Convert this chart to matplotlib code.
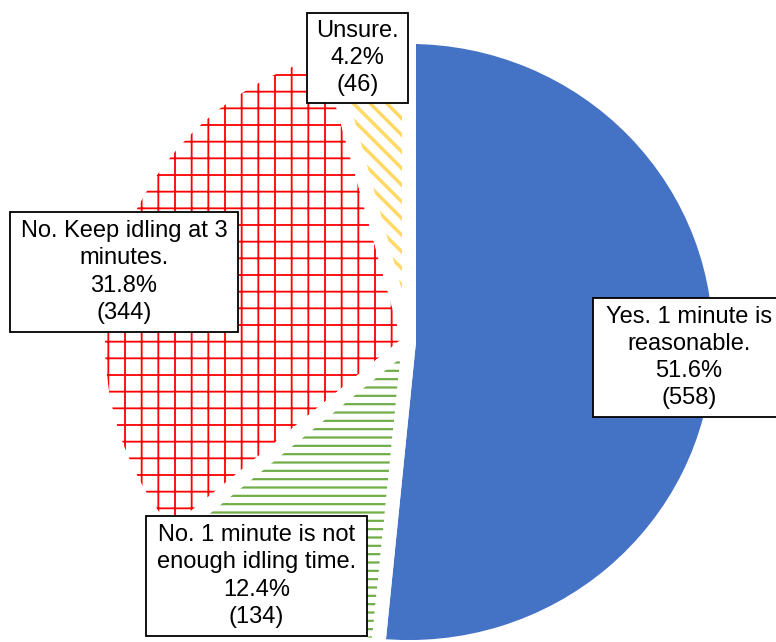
import matplotlib
matplotlib.use('Agg')
import matplotlib.pyplot as plt
from matplotlib.patches import Rectangle

plt.rcParams['font.family'] = ['Liberation Sans', 'DejaVu Sans']

# data, clockwise from 12 o'clock
labels = ['Yes. 1 minute is\nreasonable.',
          'No. 1 minute is not\nenough idling time.',
          'No. Keep idling at 3\nminutes.',
          'Unsure.']
counts = [558, 134, 344, 46]
percents = [51.6, 12.4, 31.8, 4.2]
colors = ['#4472C4', '#70AD47', '#FF0000', '#FFD966']
hatches = [None, '--', '+', '\\\\']
hatch_lw = [0, 1.6, 1.3, 2.5]

W, H = 776, 642
# pie centre and radii in pixels (slightly wider than tall)
cx, cy, rx, ry = 409, 342, 311, 305

fig = plt.figure(figsize=(W / 100, H / 100), dpi=100)
ax = fig.add_axes([0, 0, 1, 1])


def keep_hatch_lw(artist, lw):
    # hatch linewidth per wedge, whatever way the backend reads it
    if hasattr(artist, 'set_hatch_linewidth'):
        artist.set_hatch_linewidth(lw)
    orig = artist.draw

    def draw(renderer):
        with plt.rc_context({'hatch.linewidth': lw}):
            orig(renderer)
    artist.draw = draw


# layer 1: fill / hatching
wedges, _ = ax.pie(counts, startangle=90, counterclock=False, radius=1)
for w, c, h, lw in zip(wedges, colors, hatches, hatch_lw):
    w.set_linewidth(0)
    w.set_edgecolor(c)
    if h is None:
        w.set_facecolor(c)
    else:
        w.set_facecolor('none')
        w.set_hatch(h)
        keep_hatch_lw(w, lw)

# layer 2: thick white borders between the slices
ax.pie(counts, startangle=90, counterclock=False, radius=1,
       wedgeprops=dict(fill=False, edgecolor='white', linewidth=10,
                       joinstyle='round'))

ax.set_aspect('auto')
ax.set_xlim(-cx / rx, (W - cx) / rx)
ax.set_ylim(-(H - cy) / ry, cy / ry)
ax.axis('off')

# label boxes (pixel layout: left, top, right, bottom)
boxes = [(593, 298, 785, 417),
         (146, 516, 367, 636),
         (10, 212, 238, 332),
         (307, 13, 408, 103)]

for lab, n, p, (x0, y0, x1, y1) in zip(labels, counts, percents, boxes):
    rect = Rectangle((x0 / W, 1 - y1 / H), (x1 - x0) / W, (y1 - y0) / H,
                     transform=fig.transFigure, facecolor='white',
                     edgecolor='black', linewidth=1.3, zorder=5)
    fig.add_artist(rect)
    fig.text((x0 + x1) / 2 / W, 1 - (y0 + y1) / 2 / H,
             f'{lab}\n{p}%\n({n})', ha='center', va='center',
             fontsize=17, linespacing=1.3, zorder=6)

fig.savefig('out.png', dpi=100)
